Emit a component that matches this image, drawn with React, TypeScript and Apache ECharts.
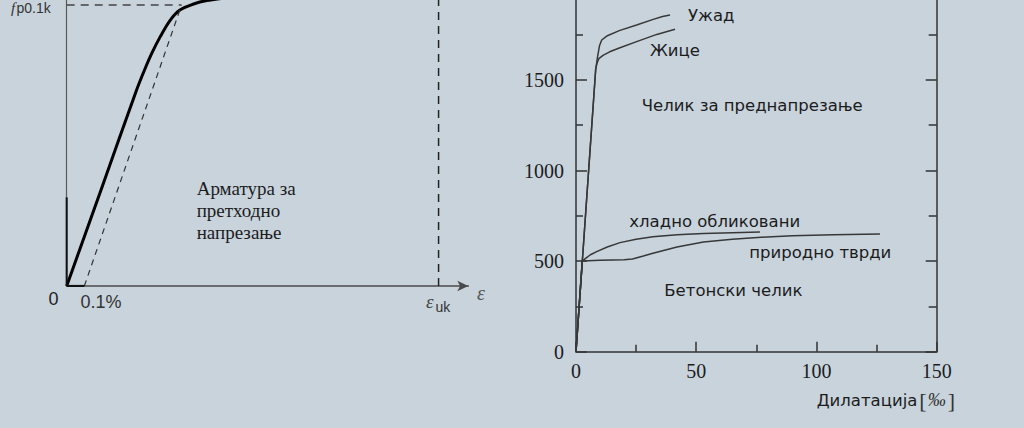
import React, { useEffect, useRef } from "react";
import * as echarts from "echarts";

// ---------- Left panel (schematic, arbitrary units 0..100) ----------
const prestressCurve: number[][] = [
  [0, 0], [8.7, 34.2], [17.4, 68.5], [19.4, 75.6], [21.2, 81.4], [23.3, 87.2],
  [25.8, 93.0], [28.2, 96.5], [31.6, 98.6], [34.9, 99.8], [40, 100.8],
];
const offsetLine: number[][] = [[4.39, 0], [28.6, 98.25]];
const proofLevel: number[][] = [[0, 98.25], [28.6, 98.25]];
const ultimateStrain: number[][] = [[92.6, 0], [92.6, 100]];
const offsetBase: number[][] = [[0, 0], [4.39, 0]];
const axisBase: number[][] = [[0, 0], [0, 31]];

// ---------- Right panel (stress [MPa] vs strain [‰]) ----------
const xTicks = [0, 50, 100, 150];
const yTicks = [0, 500, 1000, 1500, 2000];
const wires: number[][] = [
  [0, 0], [8.2, 1560], [8.8, 1595], [9.5, 1617], [11.4, 1637], [14, 1655], [18, 1676], [25.2, 1711], [33.6, 1751], [41.2, 1779],
];
const strands: number[][] = [
  [0, 0], [8.2, 1560], [9.0, 1630], [9.8, 1690], [10.7, 1720], [12.8, 1742], [18, 1772], [25.2, 1803], [32.1, 1834], [36, 1850], [39.1, 1858],
];
const coldWorked: number[][] = [
  [0, 0], [2.6, 500], [4, 515], [6, 535], [8.6, 552], [13, 578], [18.3, 602], [25, 620], [32, 635], [42, 646], [53, 653], [65, 657], [76.5, 660],
];
const hotRolled: number[][] = [
  [0, 0], [2.6, 500], [10, 505], [20, 507], [23.5, 512], [28, 528], [32, 543], [42, 578], [53, 605], [65, 621], [77, 632], [90, 640], [107, 645], [126.4, 650],
];

const BG = "#c8d3dc";
const INK = "#1c1c1c";
const SANS = "DejaVu Sans";
const SERIF = "Liberation Serif";
const ARIAL = "Liberation Sans";
const OY = 20; // chart canvas extends this far above the page

export default function App() {
  const ref = useRef<HTMLDivElement>(null);
  useEffect(() => {
    if (!ref.current) return;
    const chart = echarts.init(ref.current, undefined, { renderer: "svg" });
    const lineStyleR = { color: "#383838", width: 1.5 };
    const txt = (text: string, x: number, y: number, size: number, family: string, extra: any = {}) => ({
      type: "text",
      style: { text, x, y: y + OY, fontSize: size, fontFamily: family, fill: INK, align: "left", verticalAlign: "middle", ...extra },
      silent: true,
    });
    chart.setOption({
      animation: false,
      backgroundColor: BG,
      grid: [
        { left: 66.7, top: OY, width: 401.6, height: 286 },
        { left: 576, top: OY - 10.7, width: 360.7, height: 362.4 },
      ],
      xAxis: [
        {
          gridIndex: 0, type: "value", min: 0, max: 100,
          axisLine: { show: true, symbol: ["none", "arrow"], symbolSize: [8, 11], lineStyle: { color: "#4a4a4a", width: 1.5 } },
          axisTick: { show: false }, axisLabel: { show: false }, splitLine: { show: false },
        },
        {
          gridIndex: 1, type: "value", min: 0, max: 150, interval: 50,
          axisLine: { show: true, onZero: false, lineStyle: { color: "#333", width: 1.5 } },
          axisTick: { show: true, inside: true, length: 10, lineStyle: { color: "#333", width: 1.5 } },
          minorTick: { show: true, splitNumber: 2, length: 7, lineStyle: { color: "#333", width: 1.5 } },
          axisLabel: {
            show: true, margin: 9, fontSize: 20, fontFamily: SERIF, color: INK,
            formatter: (v: number) => (xTicks.indexOf(v) >= 0 ? String(v) : ""),
          },
          splitLine: { show: false },
        },
        {
          gridIndex: 1, type: "value", min: 0, max: 150, interval: 50, position: "top",
          axisLine: { show: true, onZero: false, lineStyle: { color: "#333", width: 1.5 } },
          axisTick: { show: false }, axisLabel: { show: false }, splitLine: { show: false },
        },
      ],
      yAxis: [
        {
          gridIndex: 0, type: "value", min: 0, max: 100,
          axisLine: { show: true, lineStyle: { color: "#5a5a5a", width: 1.2 } },
          axisTick: { show: false }, axisLabel: { show: false }, splitLine: { show: false },
        },
        {
          gridIndex: 1, type: "value", min: 0, max: 2000, interval: 500, position: "left",
          axisLine: { show: true, onZero: false, lineStyle: { color: "#333", width: 1.5 } },
          axisTick: { show: true, inside: true, length: 11, lineStyle: { color: "#333", width: 1.5 } },
          minorTick: { show: true, splitNumber: 2, length: 7, lineStyle: { color: "#333", width: 1.5 } },
          axisLabel: {
            show: true, margin: 12, fontSize: 20, fontFamily: SERIF, color: INK,
            formatter: (v: number) => (yTicks.indexOf(v) >= 0 && v < 2000 ? String(v) : ""),
          },
          splitLine: { show: false },
        },
        {
          gridIndex: 1, type: "value", min: 0, max: 2000, interval: 500, position: "right",
          axisLine: { show: true, onZero: false, lineStyle: { color: "#333", width: 1.5 } },
          axisTick: { show: true, inside: true, length: 11, lineStyle: { color: "#333", width: 1.5 } },
          minorTick: { show: true, splitNumber: 2, length: 8, lineStyle: { color: "#333", width: 1.5 } },
          axisLabel: { show: false }, splitLine: { show: false },
        },
      ],
      series: [
        { type: "line", xAxisIndex: 0, yAxisIndex: 0, data: prestressCurve, smooth: 0.35, symbol: "none", lineStyle: { color: "#000", width: 3 } },
        { type: "line", xAxisIndex: 0, yAxisIndex: 0, data: offsetLine, symbol: "none", lineStyle: { color: "#333", width: 1.2, type: [6, 5] } },
        { type: "line", xAxisIndex: 0, yAxisIndex: 0, data: proofLevel, symbol: "none", lineStyle: { color: "#444", width: 1.3, type: [8, 6] } },
        { type: "line", xAxisIndex: 0, yAxisIndex: 0, data: ultimateStrain, symbol: "none", lineStyle: { color: "#222", width: 1.5, type: [8, 6] } },
        { type: "line", xAxisIndex: 0, yAxisIndex: 0, data: offsetBase, symbol: "none", lineStyle: { color: "#111", width: 2.2 } },
        { type: "line", xAxisIndex: 0, yAxisIndex: 0, data: axisBase, symbol: "none", lineStyle: { color: "#111", width: 2 } },
        { type: "line", xAxisIndex: 1, yAxisIndex: 1, data: wires, symbol: "none", lineStyle: lineStyleR },
        { type: "line", xAxisIndex: 1, yAxisIndex: 1, data: strands, symbol: "none", lineStyle: lineStyleR },
        { type: "line", xAxisIndex: 1, yAxisIndex: 1, data: coldWorked, symbol: "none", lineStyle: lineStyleR },
        { type: "line", xAxisIndex: 1, yAxisIndex: 1, data: hotRolled, symbol: "none", lineStyle: lineStyleR },
      ],
      graphic: [
        // left panel labels
        txt("f", 11, 0, 15, SERIF, { fontStyle: "italic", fill: "#333", verticalAlign: "top" }),
        txt("p0.1k", 16.5, 8, 14, ARIAL, { fill: "#333" }),
        txt("0", 48.5, 298.5, 18, ARIAL, { fill: "#222" }),
        txt("0.1%", 80.5, 302, 18, ARIAL, { fill: "#333" }),
        txt("ε", 477, 293, 20, SERIF, { fontStyle: "italic", fill: "#555" }),
        txt("ε", 426, 301, 19, SERIF, { fontStyle: "italic", fill: "#444" }),
        txt("uk", 435.5, 307, 14, ARIAL, { fill: "#333" }),
        txt("Арматура за", 196.7, 188, 19, SERIF),
        txt("претходно", 196.7, 210, 19, SERIF),
        txt("напрезање", 196.7, 232, 19, SERIF),
        // right panel labels
        txt("Ужад", 688, 15, 16.5, SANS),
        txt("Жице", 650, 50, 16.5, SANS),
        txt("Челик за преднапрезање", 641.7, 105, 16.5, SANS),
        txt("хладно обликовани", 629.3, 221, 16.5, SANS),
        txt("природно тврди", 749.3, 252.3, 16.5, SANS),
        txt("Бетонски челик", 664.3, 290, 16.5, SANS),
        {
          type: "text", silent: true,
          style: {
            text: "{a|Дилатација}{b|[}{c|‰}{b|]}", x: 816.7, y: 400 + OY, align: "left", verticalAlign: "middle",
            rich: {
              a: { fontSize: 16.5, fontFamily: SANS, fill: INK },
              b: { fontSize: 22, fontFamily: SERIF, fill: "#333", padding: [0, 1, 0, 2] },
              c: { fontSize: 18, fontFamily: SERIF, fontStyle: "italic", fill: "#333" },
            },
          },
        },
      ],
    });
    return () => chart.dispose();
  }, []);
  return (
    <div
      ref={ref}
      style={{ position: "fixed", left: 0, top: -OY, width: 1024, height: 428 + OY, background: BG }}
    />
  );
}
